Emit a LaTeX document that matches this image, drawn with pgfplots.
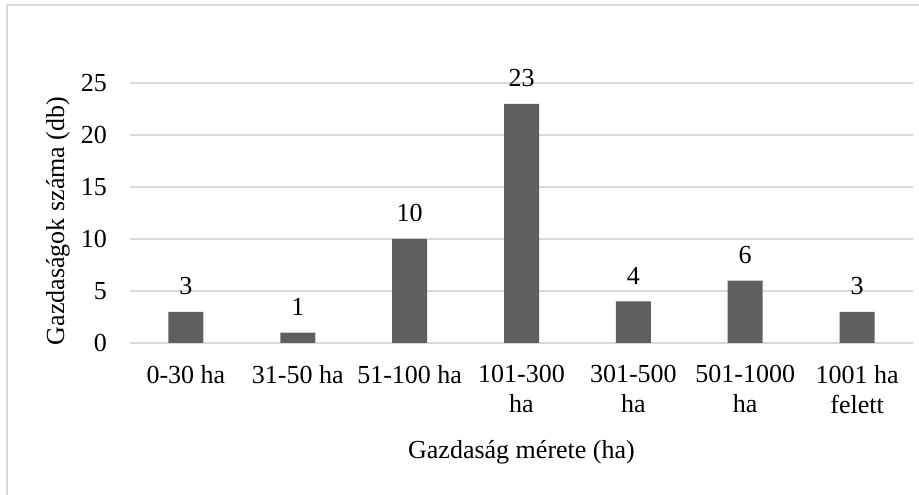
\documentclass[border=0pt]{standalone}
\usepackage{fontspec}
\setmainfont{Liberation Serif}
\usepackage{pgfplots}
\pgfplotsset{compat=1.18}
\definecolor{barc}{HTML}{5F5F5F}
\definecolor{gridc}{HTML}{D9D9D9}
\newcommand{\lbl}{\fontsize{26bp}{30bp}\selectfont}
\begin{document}
\begin{tikzpicture}
\useasboundingbox (0,0) rectangle (919bp,495bp);
% chart frame (only left and top edges are inside the crop)
\draw[gridc, line width=1.5bp] (7bp,0) -- (7bp,490bp) -- (919bp,490bp);
\begin{axis}[
    at={(130bp,152bp)}, anchor=south west,
    scale only axis,
    width=783bp, height=260bp,
    xmin=-0.5, xmax=6.5,
    ymin=0, ymax=25,
    ybar, bar width=35bp,
    ytick={0,5,10,15,20,25},
    xtick={0,1,2,3,4,5,6},
    xticklabels={0-30 ha, 31-50 ha, 51-100 ha, {101-300\\ha}, {301-500\\ha}, {501-1000\\ha}, {1001 ha\\felett}},
    axis line style={draw=none},
    major tick length=0pt,
    ymajorgrids=true,
    grid style={gridc, line width=1.3bp},
    tick label style={font=\lbl},
    /pgf/number format/assume math mode=true,
    yticklabel style={anchor=east, inner sep=0pt, xshift=-23bp},
    xticklabel style={anchor=north, inner sep=0pt, yshift=-22bp, align=center},
    xlabel={Gazdaság mérete (ha)},
    xlabel style={font=\lbl, at={(axis description cs:0.5,0)}, anchor=base, yshift=-115bp},
    ylabel={Gazdaságok száma (db)},
    % ylabel is rotated: local y points left, local x points up
    ylabel style={font=\lbl, at={(axis description cs:0,0.5)}, anchor=center, yshift=72bp, xshift=-8bp},
    nodes near coords,
    nodes near coords style={font=\lbl, anchor=base, inner sep=0pt, yshift=17bp},
]
\addplot[fill=barc, draw=none] coordinates {(0,3) (1,1) (2,10) (3,23) (4,4) (5,6) (6,3)};
\end{axis}
\end{tikzpicture}
\end{document}
